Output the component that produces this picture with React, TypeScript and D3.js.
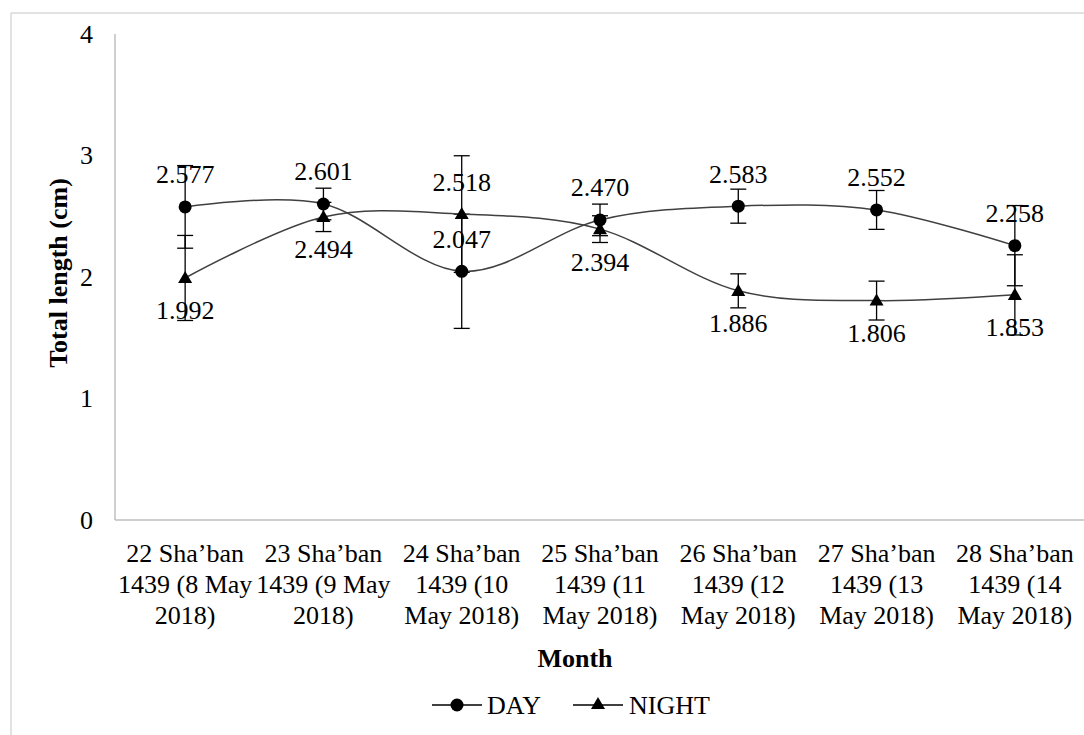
import * as d3 from 'd3';

const CATEGORIES = ['22', '23', '24', '25', '26', '27', '28'];
const TICK_LABELS = [
  ['22 Sha’ban', '1439 (8 May', '2018)'],
  ['23 Sha’ban', '1439 (9 May', '2018)'],
  ['24 Sha’ban', '1439 (10', 'May 2018)'],
  ['25 Sha’ban', '1439 (11', 'May 2018)'],
  ['26 Sha’ban', '1439 (12', 'May 2018)'],
  ['27 Sha’ban', '1439 (13', 'May 2018)'],
  ['28 Sha’ban', '1439 (14', 'May 2018)'],
];
const DAY = [2.577, 2.601, 2.047, 2.47, 2.583, 2.552, 2.258];
const NIGHT = [1.992, 2.494, 2.518, 2.394, 1.886, 1.806, 1.853];
const DAY_ERR = [0.34, 0.13, 0.47, 0.13, 0.14, 0.16, 0.33];
const NIGHT_ERR = [0.35, 0.12, 0.48, 0.11, 0.14, 0.16, 0.33];
// where the value label sits relative to the point
const DAY_LABEL_POS = ['above', 'above', 'above', 'above', 'above', 'above', 'above'];
const NIGHT_LABEL_POS = ['below', 'below', 'above', 'below', 'below', 'below', 'below'];
const Y_TICKS = [0, 1, 2, 3, 4];

const FONT = '"Liberation Serif", "Times New Roman", serif';

export default function App() {
  const width = 1084;
  const height = 735;
  const margin = { top: 34, right: 0, bottom: 215, left: 116 };

  const x = d3.scaleBand().domain(CATEGORIES).range([margin.left, width - margin.right]);
  const y = d3.scaleLinear().domain([0, 4]).range([height - margin.bottom, margin.top]);
  const cx = (i: number) => (x(CATEGORIES[i]) as number) + x.bandwidth() / 2;

  const line = d3
    .line<number>()
    .x((_, i) => cx(i))
    .y((d) => y(d))
    .curve(d3.curveCatmullRom.alpha(0));

  const tri = d3.symbol(d3.symbolTriangle, 85)();

  const series = [
    { name: 'DAY', values: DAY, err: DAY_ERR, pos: DAY_LABEL_POS, marker: 'circle' },
    { name: 'NIGHT', values: NIGHT, err: NIGHT_ERR, pos: NIGHT_LABEL_POS, marker: 'triangle' },
  ];

  const marker = (kind: string, px: number, py: number, key: string) =>
    kind === 'circle' ? (
      <circle key={key} cx={px} cy={py} r={6.5} fill="#000" />
    ) : (
      <path key={key} d={tri as string} transform={`translate(${px},${py + 1})`} fill="#000" />
    );

  const y0 = y(0);

  return (
    <svg
      width={width}
      height={height}
      style={{ position: 'absolute', left: 0, top: 0, background: '#fff' }}
      fontFamily={FONT}
    >
      {/* chart frame (cropped) */}
      <line x1={11} y1={13} x2={width} y2={13} stroke="#d9d9d9" strokeWidth={1.5} />
      <line x1={11} y1={13} x2={11} y2={height} stroke="#d9d9d9" strokeWidth={1.5} />

      {/* axes */}
      <line x1={115} y1={y(4)} x2={115} y2={y0} stroke="#bfbfbf" strokeWidth={1.5} />
      <line x1={115} y1={y0} x2={width} y2={y0} stroke="#bfbfbf" strokeWidth={1.5} />

      {Y_TICKS.map((t) => (
        <text key={t} x={93} y={y(t)} textAnchor="end" dominantBaseline="central" fontSize={26} fill="#000">
          {t}
        </text>
      ))}

      {TICK_LABELS.map((lines, i) => (
        <text key={i} textAnchor="middle" fontSize={26} fill="#000">
          {lines.map((ln, j) => (
            <tspan key={j} x={cx(i)} y={y0 + 33 + j * 31} dominantBaseline="central">
              {ln}
            </tspan>
          ))}
        </text>
      ))}

      <text x={575} y={658} textAnchor="middle" dominantBaseline="central" fontSize={26} fontWeight="bold">
        Month
      </text>
      <text
        transform={`translate(58,${(y(4) + y0) / 2 - 4}) rotate(-90)`}
        textAnchor="middle"
        dominantBaseline="central"
        fontSize={26}
        fontWeight="bold"
      >
        Total length (cm)
      </text>

      {/* error bars */}
      {series.map((s) =>
        s.values.map((v, i) => {
          const px = cx(i);
          const hi = y(v + s.err[i]);
          const lo = y(v - s.err[i]);
          return (
            <g key={s.name + i} stroke="#000" strokeWidth={1.3}>
              <line x1={px} x2={px} y1={hi} y2={lo} />
              <line x1={px - 8} x2={px + 8} y1={hi} y2={hi} />
              <line x1={px - 8} x2={px + 8} y1={lo} y2={lo} />
            </g>
          );
        })
      )}

      {/* lines */}
      {series.map((s) => (
        <path key={s.name} d={line(s.values) as string} fill="none" stroke="#404040" strokeWidth={1.5} />
      ))}

      {/* markers */}
      {series.map((s) => s.values.map((v, i) => marker(s.marker, cx(i), y(v), s.name + 'm' + i)))}

      {/* value labels */}
      {series.map((s) =>
        s.values.map((v, i) => (
          <text
            key={s.name + 'l' + i}
            x={cx(i)}
            y={y(v) + (s.pos[i] === 'above' ? -32 : 33)}
            textAnchor="middle"
            dominantBaseline="central"
            fontSize={26}
            fill="#000"
          >
            {v.toFixed(3)}
          </text>
        ))
      )}

      {/* legend */}
      <g>
        <line x1={432} x2={482} y1={705} y2={705} stroke="#000" strokeWidth={1.5} />
        {marker('circle', 457, 705, 'lg-day')}
        <text x={487} y={705} dominantBaseline="central" fontSize={26}>
          DAY
        </text>
        <line x1={573} x2={623} y1={705} y2={705} stroke="#000" strokeWidth={1.5} />
        {marker('triangle', 598, 704, 'lg-night')}
        <text x={629} y={705} dominantBaseline="central" fontSize={26}>
          NIGHT
        </text>
      </g>
    </svg>
  );
}
